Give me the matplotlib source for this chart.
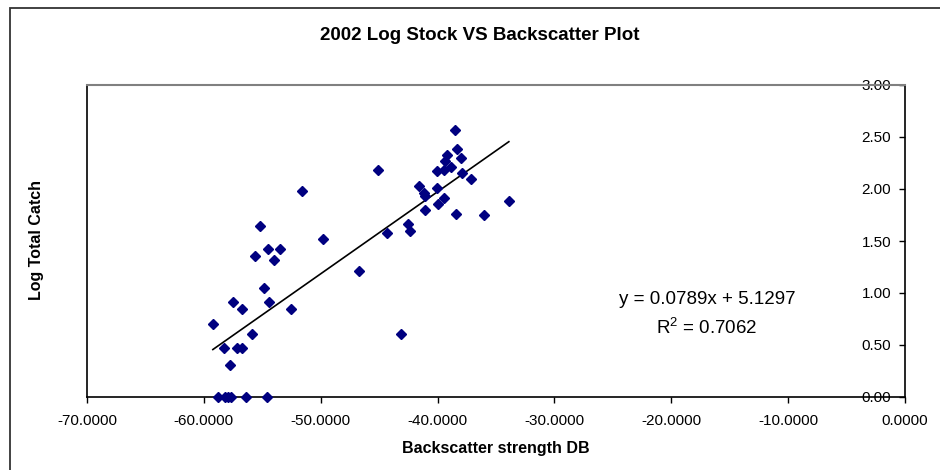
import matplotlib.pyplot as plt
import numpy as np
from matplotlib.patches import Rectangle
from matplotlib.ticker import FormatStrFormatter

plt.rcParams['font.family'] = ['Liberation Sans', 'DejaVu Sans']

# backscatter strength (dB) and log total catch
backscatter = [-59.23, -58.31, -57.80, -57.49, -57.18, -56.72, -56.72, -55.90,
               -55.59, -55.23, -54.87, -54.51, -54.41, -54.00, -53.49, -52.51,
               -51.64, -49.79, -46.72, -45.08, -44.36, -43.13, -42.56, -42.36,
               -41.59, -41.18, -41.08, -41.08, -40.05, -40.05, -39.95, -39.49,
               -39.44, -39.38, -39.23, -38.87, -38.51, -38.46, -38.36, -38.00,
               -37.90, -37.13, -36.00, -33.90,
               -58.82, -58.20, -57.97, -57.71, -56.42, -54.62]
log_catch = [0.70, 0.475, 0.31, 0.91, 0.475, 0.85, 0.475, 0.61,
             1.36, 1.64, 1.05, 1.42, 0.91, 1.32, 1.42, 0.85,
             1.98, 1.52, 1.21, 2.18, 1.58, 0.61, 1.66, 1.60,
             2.03, 1.96, 1.93, 1.80, 2.17, 2.01, 1.855, 2.18,
             1.91, 2.265, 2.33, 2.21, 2.57, 1.76, 2.38, 2.30,
             2.15, 2.10, 1.75, 1.88,
             0.0, 0.0, 0.0, 0.0, 0.0, 0.0]

slope = 0.0789
intercept = 5.1297
r_squared = 0.7062

x_ticks = [-70, -60, -50, -40, -30, -20, -10, 0]
y_ticks = [0.0, 0.5, 1.0, 1.5, 2.0, 2.5, 3.0]

fig = plt.figure(figsize=(9.4, 4.7), dpi=100)
ax = fig.add_axes([87 / 940, 1 - 397 / 470, 818 / 940, 312 / 470])

# outer chart border (left and top edges visible)
fig.add_artist(Rectangle((10 / 940, -0.1), 2, 1.1 - 8 / 470, transform=fig.transFigure,
                         fill=False, lw=1.3, edgecolor='#333333'))

ax.plot(backscatter, log_catch, linestyle='none', marker='D', markersize=4.6,
        color='#000080', clip_on=False, zorder=3)

xs = np.array([min(backscatter), max(backscatter)])
ax.plot(xs, slope * xs + intercept, color='black', lw=1.2, zorder=2)

ax.set_xlim(-70, 0)
ax.set_ylim(0, 3)
ax.set_xticks(x_ticks)
ax.set_yticks(y_ticks)
ax.xaxis.set_major_formatter(FormatStrFormatter('%.4f'))
ax.yaxis.set_major_formatter(FormatStrFormatter('%.2f'))

ax.tick_params(axis='x', direction='out', length=4, width=1, labelsize=11, pad=8)
ax.tick_params(axis='y', left=False, right=True, labelleft=False, labelright=True,
               direction='in', length=4, width=1, labelsize=11, pad=-10)
for lbl in ax.get_yticklabels():
    lbl.set_horizontalalignment('right')

ax.spines['top'].set_color('#808080')
ax.spines['top'].set_linewidth(1.5)
for s in ['left', 'right', 'bottom']:
    ax.spines[s].set_color('black')
    ax.spines[s].set_linewidth(1.2)

fig.text(480 / 940, 1 - 36 / 470, '2002 Log Stock VS Backscatter Plot',
         ha='center', va='center', fontsize=13.5, fontweight='bold')
fig.text(496 / 940, 1 - 448 / 470, 'Backscatter strength DB',
         ha='center', va='center', fontsize=11.5, fontweight='bold')
fig.text(36 / 940, 1 - 240 / 470, 'Log Total Catch', rotation=90,
         ha='center', va='center', fontsize=11.5, fontweight='bold')

ax.text(707 / 940, 1 - 300 / 470, 'y = %.4fx + %.4f' % (slope, intercept),
        transform=fig.transFigure, ha='center', va='center', fontsize=13.5)
ax.text(707 / 940, 1 - 328 / 470, '$\\mathregular{R^2}$ = %.4f' % r_squared,
        transform=fig.transFigure, ha='center', va='center', fontsize=13.5)

fig.savefig('out.png', dpi=100)
